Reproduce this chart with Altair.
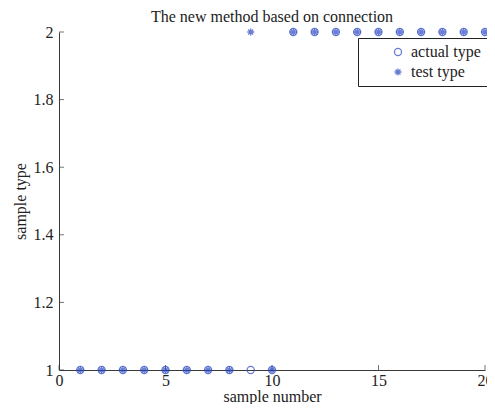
import altair as alt
import pandas as pd

samples = list(range(1, 21))
actual_type = [1, 1, 1, 1, 1, 1, 1, 1, 1, 1, 2, 2, 2, 2, 2, 2, 2, 2, 2, 2]
test_type = [1, 1, 1, 1, 1, 1, 1, 1, 2, 1, 2, 2, 2, 2, 2, 2, 2, 2, 2, 2]
series_names = ["actual type", "test type"]
x_ticks = [0, 5, 10, 15, 20]
y_ticks = [1, 1.2, 1.4, 1.6, 1.8, 2]

W, H = 426, 338
BLUE = "#2946c2"
AX = "#3a3a3a"
FONT = "Liberation Serif"
ASTER = "M-1,0L1,0M0,-1L0,1M-0.7,-0.7L0.7,0.7M-0.7,0.7L0.7,-0.7"

rows = []
for s, a in zip(samples, actual_type):
    rows.append({"sample": s, "type": a, "series": series_names[0]})
for s, t in zip(samples, test_type):
    rows.append({"sample": s, "type": t, "series": series_names[1]})
df = pd.DataFrame(rows)

xscale = alt.Scale(domain=[0, 20], nice=False, zero=False)
yscale = alt.Scale(domain=[1, 2], nice=False, zero=False)

points = alt.Chart(df).mark_point(filled=False, size=50, strokeWidth=1.3).encode(
    x=alt.X("sample:Q", scale=xscale,
            axis=alt.Axis(values=x_ticks, format="~g", ticks=False, grid=False,
                          domainColor=AX, labelColor="#222", labelFont=FONT,
                          labelFontSize=16, labelPadding=2, labelFlush=False,
                          labelOverlap=False, title="sample number",
                          titleFont=FONT, titleFontSize=16, titleFontWeight="normal",
                          titleColor="#222", titleY=31, titleBaseline="alphabetic")),
    y=alt.Y("type:Q", scale=yscale,
            axis=alt.Axis(values=y_ticks, format="~g", ticks=False, grid=False,
                          domainColor=AX, labelColor="#222", labelFont=FONT,
                          labelFontSize=16, labelPadding=6, labelFlush=False,
                          labelOverlap=False, title="sample type",
                          titleFont=FONT, titleFontSize=16, titleFontWeight="normal",
                          titleColor="#222", titleX=-39, titleY=H / 2,
                          titleBaseline="middle", titleAlign="center")),
    color=alt.Color("series:N", scale=alt.Scale(domain=series_names, range=[BLUE, BLUE]),
                    legend=alt.Legend(title=None, orient="none", legendX=299, legendY=6,
                                      strokeColor="#222", fillColor="white", padding=6,
                                      symbolOffset=26, labelOffset=5, rowPadding=4,
                                      labelFont=FONT, labelFontSize=16, labelColor="#222",
                                      symbolSize=50, symbolStrokeWidth=1.3)),
    shape=alt.Shape("series:N", scale=alt.Scale(domain=series_names, range=["circle", ASTER])),
)

xt = pd.DataFrame({"v": x_ticks})
yt = pd.DataFrame({"v": y_ticks})
xtick_marks = alt.Chart(xt).mark_tick(orient="vertical", size=5, thickness=1, color=AX).encode(
    x=alt.X("v:Q", scale=xscale), y=alt.value(H - 2.5))
ytick_marks = alt.Chart(yt).mark_tick(orient="horizontal", size=5, thickness=1, color=AX).encode(
    y=alt.Y("v:Q", scale=yscale), x=alt.value(2.5))

chart = alt.layer(xtick_marks, ytick_marks, points).properties(
    width=W, height=H,
    title=alt.TitleParams("The new method based on connection", font=FONT, fontSize=16,
                          fontWeight="normal", color="#222", anchor="middle",
                          baseline="alphabetic", offset=7, frame="group", dy=21),
    autosize=alt.AutoSizeParams(type="none"),
    padding={"left": 51, "top": 24, "right": 2, "bottom": 34},
).configure_view(stroke=None)

chart.save("out.html", embed_options={"renderer": "svg", "actions": False})
